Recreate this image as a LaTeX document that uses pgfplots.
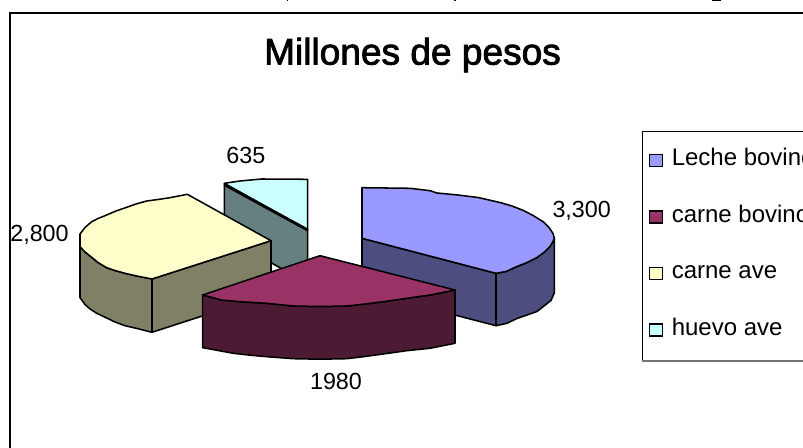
\documentclass[border=0pt]{standalone}
\usepackage{pgfplots}
\pgfplotsset{compat=1.18}
\usepackage{fontspec}
\setmainfont{Liberation Sans}
\newfontfamily\titlefont[FakeBold=2.2]{Liberation Sans}
\definecolor{cblue}{HTML}{9999FF}
\definecolor{cblueD}{HTML}{4D4D80}
\definecolor{cpur}{HTML}{993366}
\definecolor{cpurD}{HTML}{4D1A33}
\definecolor{cyel}{HTML}{FFFFCC}
\definecolor{cyelD}{HTML}{808066}
\definecolor{ccya}{HTML}{CCFFFF}
\definecolor{ccyaD}{HTML}{668080}
\pgfplotsset{
  swatch/.style={legend image code/.code={\draw[black,line width=1.1pt,fill=#1] (0pt,-4.6pt) rectangle (10pt,4.6pt);}},
  face/.style={draw=black,line width=1.15pt,line join=round,fill=#1,mark=none,forget plot}
}
\begin{document}
\begin{tikzpicture}
\path[use as bounding box,clip] (0,0) rectangle (602.25pt,336pt);
\begin{axis}[
  at={(0,0)},anchor=south west,
  scale only axis,width=602.25pt,height=336pt,
  xmin=0,xmax=803,ymin=0,ymax=448,y dir=reverse,
  hide axis,clip=false,
  legend cell align=left,
  legend style={draw=none,fill=none,at={(axis cs:648.3,149.5)},anchor=north west,
    inner sep=0pt,row sep=26.4pt,column sep=6.3pt,
    nodes={inner sep=0pt,text height=12pt,text depth=4pt,font=\fontsize{18pt}{21pt}\selectfont}},
]
% frame
\addplot[black,line width=1.4pt,mark=none,forget plot] coordinates {(10.3,448) (10.3,12.7) (803,12.7)};
% clipped text above the frame
\addplot[black,line width=1.4pt,mark=none,forget plot] coordinates {(287.5,0) (287.5,1.5)};
\addplot[black,line width=1.4pt,mark=none,forget plot] coordinates {(455,0) (455,1.5)};
\addplot[black,line width=1.4pt,mark=none,forget plot] coordinates {(712,0) (721,0)};
% legend box
\addplot[black,line width=0.8pt,mark=none,forget plot] coordinates {(642.3,360) (642.3,131.3) (803,131.3)};
\addplot[black!55,line width=1.3pt,mark=none,forget plot] coordinates {(642,360.7) (803,360.7)};
% huevo ave, 635
\addplot[face=ccyaD] coordinates {(224.3,184) (307.7,230) (307.7,283) (224.3,237)} --cycle;
\addplot[face=ccya] coordinates {(224.3,183.3) (240,181) (261.7,179) (307.7,179.3) (307.7,230)} --cycle;
\addplot[black,line width=2.2pt,mark=none,forget plot] coordinates {(224.3,184.5) (307.7,230)};
% carne ave, 2800
\addplot[face=cyelD] coordinates {(152,279) (271,240.7) (271,293.7) (152,332.3)} --cycle;
\addplot[face=cyelD] coordinates {(80,240) (85,252) (91.7,257.3) (98,262.5) (106.7,267.7) (115,270.5) (125,273.3) (136.7,276) (152,279) (152,332.3) (137,328.5) (125,325.7) (115,322) (106.7,318) (96.7,313.3) (90,309) (85,304.5) (80,297.7)} --cycle;
\addplot[face=cyel] coordinates {(187.3,194.3) (170,197.7) (158,199.5) (146.7,201) (136,204) (126.7,207.3) (116,211) (106.7,215) (98,218.5) (91.7,221.7) (85,227.5) (80,234) (80,246.7) (85,252) (91.7,257.3) (98,262.5) (106.7,267.7) (115,270.5) (125,273.3) (136.7,276) (152,279) (271,240.7)} --cycle;
% leche bovino, 3300
\addplot[face=cblueD] coordinates {(362,238.3) (496,273.3) (496,325.7) (362,291)} --cycle;
\addplot[face=cblueD] coordinates {(496,273.3) (506,271.5) (517,266.5) (527,262.5) (537,257.5) (544.5,252) (550,246.5) (553,241.5) (554.3,238.3) (554.3,293) (551,300.5) (544,306) (537,311.5) (527,315) (517,318.5) (507,323.3) (496,325.7)} --cycle;
\addplot[face=cblue] coordinates {(362,187.7) (410,188.3) (430,190.7) (437,193) (458,195) (478,197.5) (500,202.5) (512,206) (523.5,210.5) (534,216) (543.5,222) (549,227.5) (553,233.5) (554.3,238.3) (553,241.5) (550,246.5) (544.5,252) (537,257.5) (527,262.5) (517,266.5) (506,271.5) (496,273.3) (362,238.3)} --cycle;
% carne bovino, 1980
\addplot[face=cpurD] coordinates {(202.7,295) (221.7,300) (240,301.7) (266.7,303.3) (293.3,306) (320,306.5) (346.7,306) (365,304) (383.3,301.7) (406.7,298.3) (430,295) (455,290) (455,343.3) (430,348.3) (406.7,350.7) (383.3,354) (365,356.5) (346.7,358.7) (320,359.2) (293.3,358.7) (266.7,356.7) (250,355.2) (233.3,353.3) (210,349) (202.7,347.7)} --cycle;
\addplot[face=cpur] coordinates {(320,255.7) (202.7,295) (221.7,300) (240,301.7) (266.7,303.3) (293.3,306) (320,306.5) (346.7,306) (365,304) (383.3,301.7) (406.7,298.3) (430,295) (455,290)} --cycle;
% legend
\addlegendimage{swatch=cblue}\addlegendentry{Leche bovino}
\addlegendimage{swatch=cpur}\addlegendentry{carne bovino}
\addlegendimage{swatch=cyel}\addlegendentry{carne ave}
\addlegendimage{swatch=ccya}\addlegendentry{huevo ave}
% texts
\node[inner sep=0pt,font=\titlefont\fontsize{27.8pt}{32pt}\selectfont] at (axis cs:412.5,55) {Millones de pesos};
\node[inner sep=0pt,font=\fontsize{17.5pt}{20pt}\selectfont] at (axis cs:245.8,155.3) {635};
\node[inner sep=0pt,font=\fontsize{17.5pt}{20pt}\selectfont] at (axis cs:581.7,210.5) {3,300};
\node[inner sep=0pt,font=\fontsize{17.5pt}{20pt}\selectfont] at (axis cs:39.5,234.5) {2,800};
\node[inner sep=0pt,font=\fontsize{17.5pt}{20pt}\selectfont] at (axis cs:336,381) {1980};
\end{axis}
\end{tikzpicture}
\end{document}
